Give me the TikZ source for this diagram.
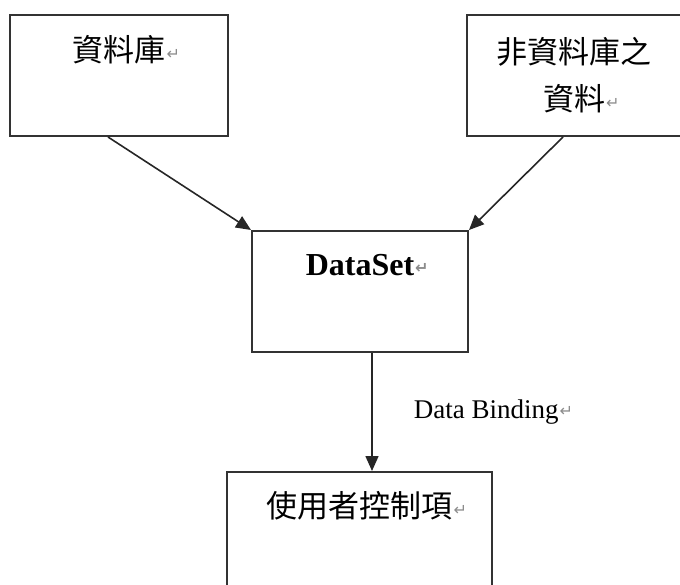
\documentclass[tikz,border=0pt]{standalone}
\usepackage{fontspec}
\setmainfont{Liberation Serif}
\newfontfamily\cjk{Noto Sans CJK TC}
\newfontfamily\symfont{DejaVu Sans}
\usetikzlibrary{arrows.meta,positioning}
\newcommand{\retmark}{\rlap{\hspace{1pt}\raisebox{2pt}{\symfont\fontsize{16}{16}\selectfont\textcolor{black!45}{↵}}}}

\begin{document}
\begin{tikzpicture}[x=1pt,y=-1pt,>={Triangle[length=15pt,width=13pt]},
                    line width=1.6pt]

  \tikzstyle{box}=[draw=black!80,rectangle,inner sep=0pt,line width=2pt]
  \tikzstyle{cjktext}=[inner sep=0pt,align=center,font=\cjk\fontsize{31}{47}\selectfont]

  \useasboundingbox (0,0) rectangle (680,585);
  \clip (0,0) rectangle (680,585);

  \node[box, minimum width=218pt, minimum height=121pt] (db)    at (119,75.5)  {};
  \node[box, minimum width=214pt, minimum height=121pt] (nondb) at (574,75.5)  {};
  \node[box, minimum width=216pt, minimum height=121pt] (ds)    at (360,291.5) {};
  \node[box, minimum width=265pt, minimum height=121pt] (ctl)   at (359.5,532.5) {};

  \node[cjktext, below=21pt of db.north]    (dbtext)    {資料庫\retmark};
  \node[cjktext, below=23pt of nondb.north] (nondbtext) {非資料庫之\\資料\retmark};
  \node[inner sep=0pt, below=24pt of ds.north,
        font=\bfseries\fontsize{32}{32}\selectfont] (dstext) {DataSet\retmark};
  \node[cjktext, below=20pt of ctl.north]   (ctltext)   {使用者控制項\retmark};

  \draw[->, black!85] ([xshift=-11pt]db.south)    -- (ds.north west);
  \draw[->, black!85] ([xshift=-11pt]nondb.south) -- (ds.north east);
  \draw[->, black!85] ([xshift=12pt]ds.south) --
        node[right=41pt, inner sep=0pt, text=black,
             font=\fontsize{27}{27}\selectfont] (bindlabel) {Data Binding\retmark}
        ([xshift=12pt]ds.south |- ctl.north);
\end{tikzpicture}
\end{document}
